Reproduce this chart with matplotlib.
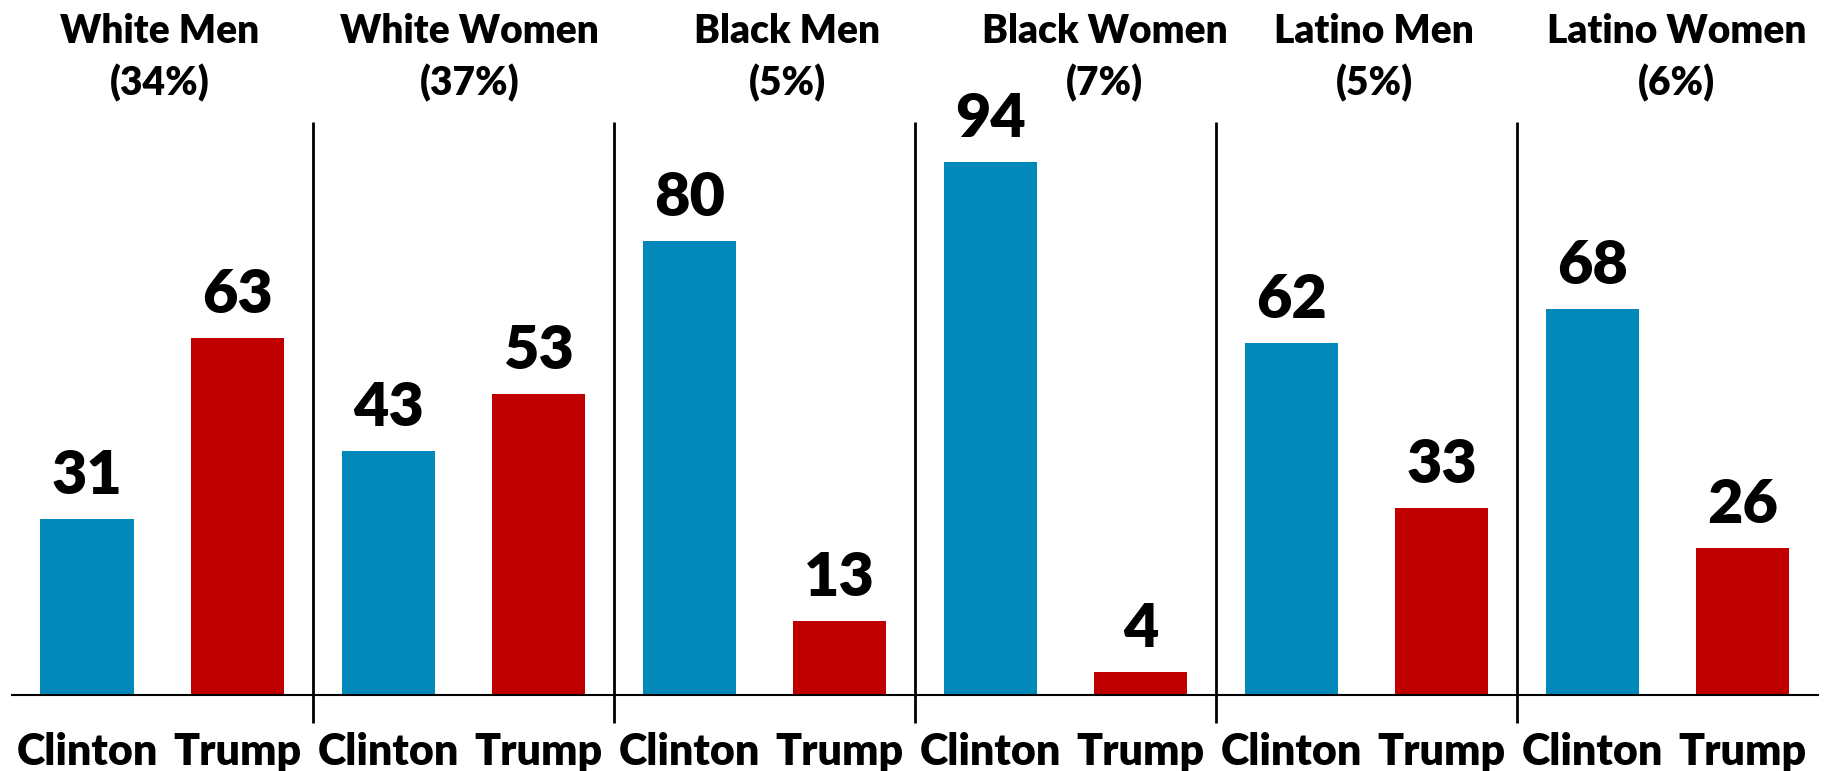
import matplotlib
matplotlib.use("Agg")
import matplotlib.pyplot as plt

groups = ["White Men", "White Women", "Black Men", "Black Women", "Latino Men", "Latino Women"]
shares = ["34%", "37%", "5%", "7%", "5%", "6%"]
candidates = ["Clinton", "Trump"]
clinton = [31, 43, 80, 94, 62, 68]
trump = [63, 53, 13, 4, 33, 26]

BLUE = "#0288B9"
RED = "#C00000"
FONT = "Lato"
WEIGHT = "heavy"

fig = plt.figure(figsize=(18.29, 7.71), dpi=100)
ax = fig.add_axes([0.0065, 0.0986, 0.9875, 0.7354])

values, colors, labels = [], [], []
for c, t in zip(clinton, trump):
    values += [c, t]
    colors += [BLUE, RED]
    labels += candidates
xs = list(range(len(values)))

bars = ax.bar(xs, values, width=0.62, color=colors)
for b, v in zip(bars, values):
    ax.annotate(str(v), (b.get_x() + b.get_width() / 2, v), xytext=(0, 18),
                textcoords="offset points", ha="center", va="baseline",
                fontsize=44, fontweight=WEIGHT, family=FONT)

ax.set_xlim(-0.5, len(values) - 0.5)
ax.set_ylim(0, 100)
for s in ["top", "right", "left"]:
    ax.spines[s].set_visible(False)
ax.spines["bottom"].set_linewidth(1.5)
ax.set_yticks([])
ax.set_xticks(xs)
ax.set_xticklabels(labels, fontsize=31, fontweight=WEIGHT, family=FONT)
ax.tick_params(axis="x", length=0, pad=27)

# group dividers
divs = [2 * i + 1.5 for i in range(len(groups) - 1)]
ax.vlines(divs, -5, 101, colors="black", linewidth=2, clip_on=False)

# group titles
title_offsets = [0.48, 0.54, 0.65, 0.76, 0.55, 0.56]
for i, (g, s) in enumerate(zip(groups, shares)):
    ax.text(2 * i + title_offsets[i], 112.4, f"{g}\n({s})", ha="center", va="center",
            fontsize=28, fontweight=WEIGHT, family=FONT, linespacing=1.42,
            clip_on=False)

fig.savefig("out.png", dpi=100)
